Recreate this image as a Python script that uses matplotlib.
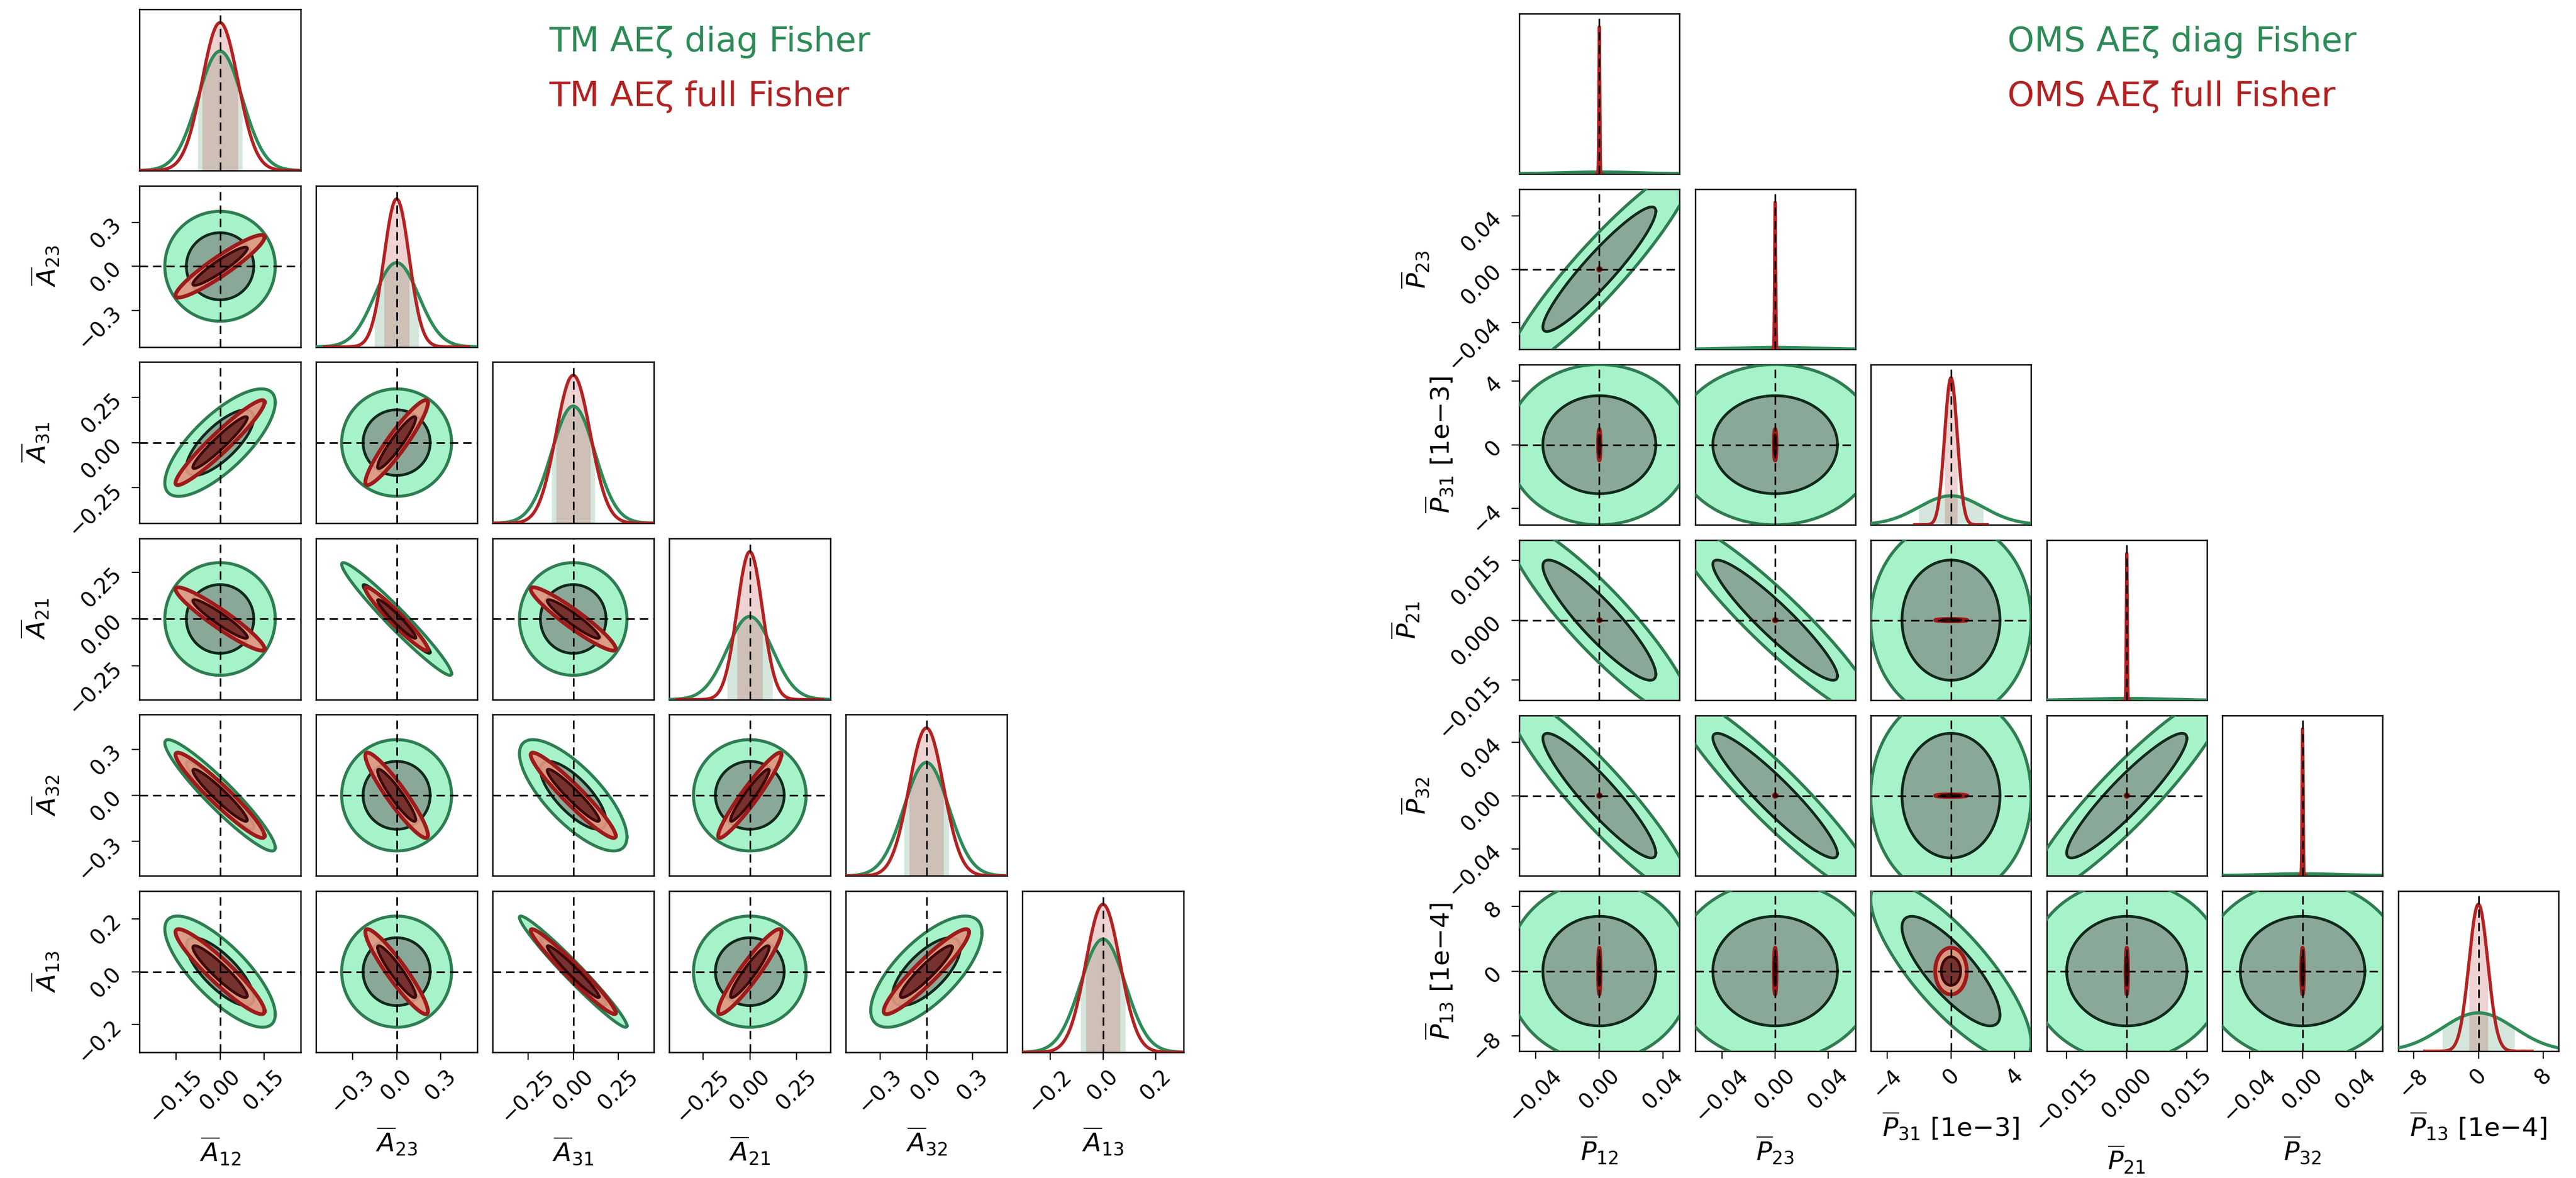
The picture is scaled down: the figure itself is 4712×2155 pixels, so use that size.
import numpy as np
import matplotlib.pyplot as plt

W, H = 4712, 2155

GREEN = "#2E8B57"
RED = "#B22222"

# ---------------------------------------------------------------------
# TM corner (left)
# ---------------------------------------------------------------------
tm_labels = [r"$\overline{A}_{12}$", r"$\overline{A}_{23}$", r"$\overline{A}_{31}$",
             r"$\overline{A}_{21}$", r"$\overline{A}_{32}$", r"$\overline{A}_{13}$"]
tm_ticks = [[-0.15, 0.0, 0.15], [-0.3, 0.0, 0.3], [-0.25, 0.0, 0.25],
            [-0.25, 0.0, 0.25], [-0.3, 0.0, 0.3], [-0.2, 0.0, 0.2]]
tm_half_range = [0.274, 0.55, 0.447, 0.43, 0.525, 0.306]
tm_sigma_diag = [0.0756, 0.151, 0.12, 0.121, 0.146, 0.085]
tm_sigma_full = [0.061, 0.086, 0.095, 0.068, 0.112, 0.065]
# lower triangle: row i holds rho(i, j) for j < i
tm_corr_diag = [[], [0.0], [0.75, 0.0], [0.0, -0.97, 0.0],
                [-0.94, 0.0, -0.75, 0.0], [-0.77, 0.0, -0.975, 0.0, 0.7]]
tm_corr_full = [[], [0.93], [0.95, 0.93], [-0.94, -0.96, -0.94],
                [-0.95, -0.93, -0.95, 0.95], [-0.93, -0.93, -0.97, 0.93, 0.93]]

# ---------------------------------------------------------------------
# OMS corner (right)
# ---------------------------------------------------------------------
oms_labels = [r"$\overline{P}_{12}$", r"$\overline{P}_{23}$", r"$\overline{P}_{31}$ [1e−3]",
              r"$\overline{P}_{21}$", r"$\overline{P}_{32}$", r"$\overline{P}_{13}$ [1e−4]"]
oms_ticks = [[-0.04, 0.0, 0.04], [-0.04, 0.0, 0.04], [-4, 0, 4],
             [-0.015, 0.0, 0.015], [-0.04, 0.0, 0.04], [-8, 0, 8]]
oms_half_range = [0.0503, 0.0604, 5.03, 0.02, 0.0604, 9.86]
oms_sigma_diag = [0.0234, 0.031, 2.03, 0.0099, 0.031, 4.45]
oms_sigma_full = [0.0003, 0.0004, 0.4, 0.00012, 0.0004, 1.16]
oms_corr_diag = [[], [0.93], [0.0, 0.0], [-0.9, -0.93, 0.0],
                 [-0.92, -0.93, 0.0, 0.92], [0.0, 0.0, -0.8, 0.0, 0.0]]
oms_corr_full = [[], [0.0], [0.0, 0.0], [0.0, 0.0, 0.0],
                 [0.0, 0.0, 0.0, 0.0], [0.0, 0.0, 0.0, 0.0, 0.0]]

LEVELS = [0.683, 0.954]          # enclosed probability of the two contours
RADII = [np.sqrt(-2 * np.log(1 - p)) for p in LEVELS]

STYLE = {
    "diag": dict(line=GREEN, fills=("#a6f3c9", "#8aa897"), edges=("#2e7d50", "#10291c"),
                 widths=(4.0, 3.6), alpha=1.0),
    "full": dict(line=RED, fills=("#e0967f", "#6e2a28"), edges=("#9e1b1b", "#3f0808"),
                 widths=(5.0, 3.6), alpha=0.92),
}

fig = plt.figure(figsize=(W / 100, H / 100), dpi=100)
DASH = dict(color="k", lw=2.2, ls=(0, (5, 3)), zorder=10)


def gauss(x, s):
    return np.exp(-0.5 * (x / s) ** 2) / (s * np.sqrt(2 * np.pi))


def ellipse(sx, sy, rho, r, n=400):
    t = np.linspace(0, 2 * np.pi, n)
    x = r * sx * np.cos(t)
    y = r * sy * (rho * np.cos(t) + np.sqrt(1 - rho ** 2) * np.sin(t))
    return x, y


def corner(left, top, size, px, py, labels, ticks, half, sig_d, sig_f, rho_d, rho_f):
    n = len(labels)
    for i in range(n):
        for j in range(i + 1):
            x0 = left + j * px
            y0 = top + i * py
            ax = fig.add_axes([x0 / W, 1 - (y0 + size) / H, size / W, size / H])
            for sp in ax.spines.values():
                sp.set_linewidth(1.8)
            ax.set_xlim(-half[j], half[j])

            if i == j:
                # 1D marginals --------------------------------------------
                peak = 0
                for key, sig in (("diag", sig_d[i]), ("full", sig_f[i])):
                    col = STYLE[key]["line"]
                    lo, hi = max(-5.7 * sig, -half[i]), min(5.7 * sig, half[i])
                    x = np.linspace(lo, hi, 800)
                    ax.plot(x, gauss(x, sig), color=col, lw=4.2, zorder=3)
                    xf = np.linspace(-sig, sig, 200)
                    ax.fill_between(xf, gauss(xf, sig), color=col, alpha=0.2, lw=0, zorder=2)
                    peak = max(peak, gauss(0, sig))
                ax.set_ylim(0, 1.09 * peak)
                ax.axvline(0, **DASH)
                ax.set_yticks([])
            else:
                # 2D contours ---------------------------------------------
                for key, sig, rho in (("diag", sig_d, rho_d), ("full", sig_f, rho_f)):
                    st = STYLE[key]
                    r_in, r_out = RADII
                    xo, yo = ellipse(sig[j], sig[i], rho[i][j], r_out)
                    xi, yi = ellipse(sig[j], sig[i], rho[i][j], r_in)
                    z = 2 if key == "diag" else 5
                    ax.fill(xo, yo, color=st["fills"][0], alpha=st["alpha"], lw=0, zorder=z)
                    ax.fill(xi, yi, color=st["fills"][1], alpha=st["alpha"], lw=0, zorder=z)
                    ax.plot(xo, yo, color=st["edges"][0], lw=st["widths"][0], zorder=z + 1)
                    ax.plot(xi, yi, color=st["edges"][1], lw=st["widths"][1], zorder=z + 1)
                ax.set_ylim(-half[i], half[i])
                ax.axvline(0, **DASH)
                ax.axhline(0, **DASH)
                if j == 0:
                    ax.set_yticks(ticks[i])
                    ax.set_ylabel(labels[i], fontsize=34, labelpad=18)
                    for lab in ax.get_yticklabels():
                        lab.set_rotation(45)
                else:
                    ax.set_yticks([])

            if i == n - 1:
                ax.set_xticks(ticks[j])
                ax.set_xlabel(labels[j], fontsize=34, labelpad=12)
                for lab in ax.get_xticklabels():
                    lab.set_rotation(45)
            else:
                ax.set_xticks([])
            ax.tick_params(labelsize=28, length=10, width=1.6, pad=8)


corner(255, 17, 295, 323, 322.6, tm_labels, tm_ticks, tm_half_range,
       tm_sigma_diag, tm_sigma_full, tm_corr_diag, tm_corr_full)
corner(2779, 25, 293, 321.6, 321, oms_labels, oms_ticks, oms_half_range,
       oms_sigma_diag, oms_sigma_full, oms_corr_diag, oms_corr_full)

# chain names
fig.text(1004 / W, 1 - 94 / H, "TM AEζ diag Fisher", color=GREEN, fontsize=45, va="baseline")
fig.text(1004 / W, 1 - 194 / H, "TM AEζ full Fisher", color=RED, fontsize=45, va="baseline")
fig.text(3672 / W, 1 - 94 / H, "OMS AEζ diag Fisher", color=GREEN, fontsize=45, va="baseline")
fig.text(3672 / W, 1 - 194 / H, "OMS AEζ full Fisher", color=RED, fontsize=45, va="baseline")

fig.savefig("out.png", dpi=100)
